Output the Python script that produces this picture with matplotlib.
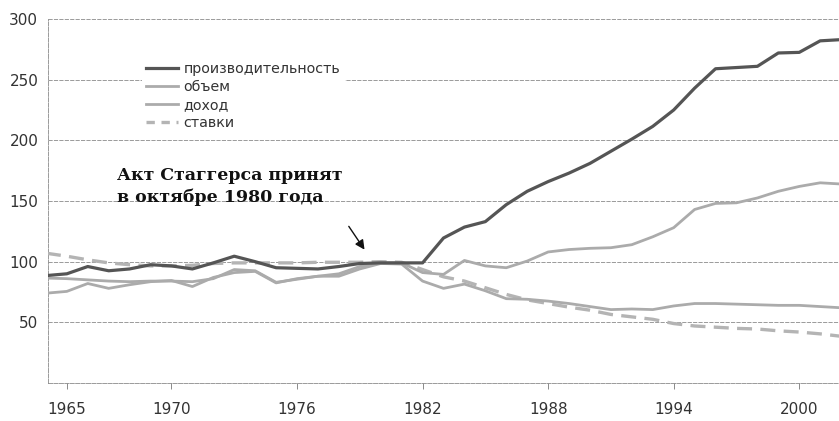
import matplotlib
matplotlib.use("Agg")
import matplotlib.pyplot as plt
from matplotlib.lines import Line2D

# ── Data (index, 1980 = 100) ─────────────────────────────────────────────
YEARS = list(range(1964, 2003))

PRODUCTIVITY = [88.5, 90, 96, 92.5, 94, 97.5, 96.5, 94, 99, 104.5,
                100, 95, 94.5, 94, 96, 98.5, 99, 99, 99, 119.5,
                128.5, 133, 147, 158, 166, 173, 181, 191, 201, 211.5,
                225, 243, 259, 260, 261, 272, 272.5, 282, 283]

VOLUME = [74, 75.5, 82, 78, 81, 83.5, 84.5, 79.5, 87, 91,
          92, 82.5, 86, 88, 90, 96, 99, 99, 91, 89.5,
          101, 96.5, 95, 100.5, 108, 110, 111, 111.5, 114, 120.5,
          128, 143, 148, 148.5, 152.5, 158, 162, 165, 164]

REVENUE = [86.5, 86, 85, 84, 83.5, 84, 84, 83.5, 86, 93.5,
           92.5, 83, 85.5, 88, 88, 94, 98.5, 98, 84, 78,
           81.5, 76, 69.5, 69, 67.5, 65.5, 63, 60.5, 61, 60.5,
           63.5, 65.5, 65.5, 65, 64.5, 64, 64, 63, 62]

RATES = [107, 104.5, 101.5, 99, 97.5, 96.5, 96.5, 97, 98.5, 99,
         99, 99, 99, 99.5, 99.5, 99.5, 100, 99.5, 93.5, 87.5,
         84, 78.5, 73, 68.5, 65.5, 62.5, 60, 56.5, 54.5, 52.5,
         49, 47, 46, 45, 44.5, 43, 42, 40.5, 38.5]

LABELS = ["производительность", "объем", "доход", "ставки"]
X_TICKS = [1965, 1970, 1976, 1982, 1988, 1994, 2000]
Y_TICKS = [50, 100, 150, 200, 250, 300]

ANNOT_TEXT = "Акт Стаггерса принят\nв октябре 1980 года"

# ── Styles ───────────────────────────────────────────────────────────────
C_DARK = "#555555"
C_LIGHT = "#ababab"
C_LIGHT2 = "#b4b4b4"
C_GRID = "#8a8a8a"
C_TEXT = "#333333"

plt.rcParams["font.family"] = ["DejaVu Sans"]

fig = plt.figure(figsize=(8.39, 4.21), dpi=100)
ax = fig.add_axes([48 / 839, 38 / 421, 791 / 839, 364 / 421])

ax.plot(YEARS, RATES, color=C_LIGHT2, lw=2.4, ls=(0, (4.5, 2.5)),
        zorder=3, label=LABELS[3])
ax.plot(YEARS, REVENUE, color=C_LIGHT, lw=2.0, zorder=4, label=LABELS[2])
ax.plot(YEARS, VOLUME, color=C_LIGHT, lw=2.0, zorder=4, label=LABELS[1])
ax.plot(YEARS, PRODUCTIVITY, color=C_DARK, lw=2.3, zorder=5, label=LABELS[0])

ax.set_xlim(1964.1, 2001.9)
ax.set_ylim(0, 300)

# grid and axes
for v in Y_TICKS:
    ax.axhline(v, color=C_GRID, lw=0.6, ls=(0, (5, 1.5)), zorder=1)
for side in ("top", "right"):
    ax.spines[side].set_visible(False)
for side in ("left", "bottom"):
    ax.spines[side].set_color(C_GRID)
    ax.spines[side].set_linewidth(0.6)
    ax.spines[side].set_linestyle((0, (5, 1.5)))

ax.set_xticks(X_TICKS)
ax.set_xticklabels([str(t) for t in X_TICKS])
ax.set_yticks(Y_TICKS)
ax.set_yticklabels([str(t) for t in Y_TICKS])
ax.tick_params(axis="x", length=4.5, width=0.7, color=C_GRID, pad=9,
               labelsize=11, labelcolor=C_TEXT)
ax.tick_params(axis="y", length=0, pad=7, labelsize=11, labelcolor=C_TEXT)

# legend (productivity first, as in the reference)
handles = [
    Line2D([0], [0], color=C_DARK, lw=2.3),
    Line2D([0], [0], color=C_LIGHT, lw=2.0),
    Line2D([0], [0], color=C_LIGHT, lw=2.0),
    Line2D([0], [0], color=C_LIGHT2, lw=2.4, ls=(0, (2.5, 2))),
]
leg = ax.legend(handles, LABELS, loc="upper left",
                bbox_to_anchor=(135 / 839, 1 - 51 / 421),
                bbox_transform=fig.transFigure,
                fontsize=10.3, handlelength=2.2, handletextpad=0.4,
                labelspacing=0.28, borderpad=0.3, frameon=True,
                facecolor="white", edgecolor="none", framealpha=1)
for t in leg.get_texts():
    t.set_color(C_TEXT)
leg.set_zorder(6)

# annotation
ax.annotate(ANNOT_TEXT, xy=(1979.3, 108), xytext=(1967.4, 146),
            fontsize=12.5, fontweight="bold", family="DejaVu Serif",
            color="#111111", ha="left", va="bottom", linespacing=1.35,
            zorder=7)
ax.annotate("", xy=(1979.3, 108), xytext=(1978.4, 131),
            arrowprops=dict(arrowstyle="-|>", color="#111111", lw=1.0,
                            mutation_scale=14),
            zorder=7)

fig.savefig("out.png", dpi=100, facecolor="white")
